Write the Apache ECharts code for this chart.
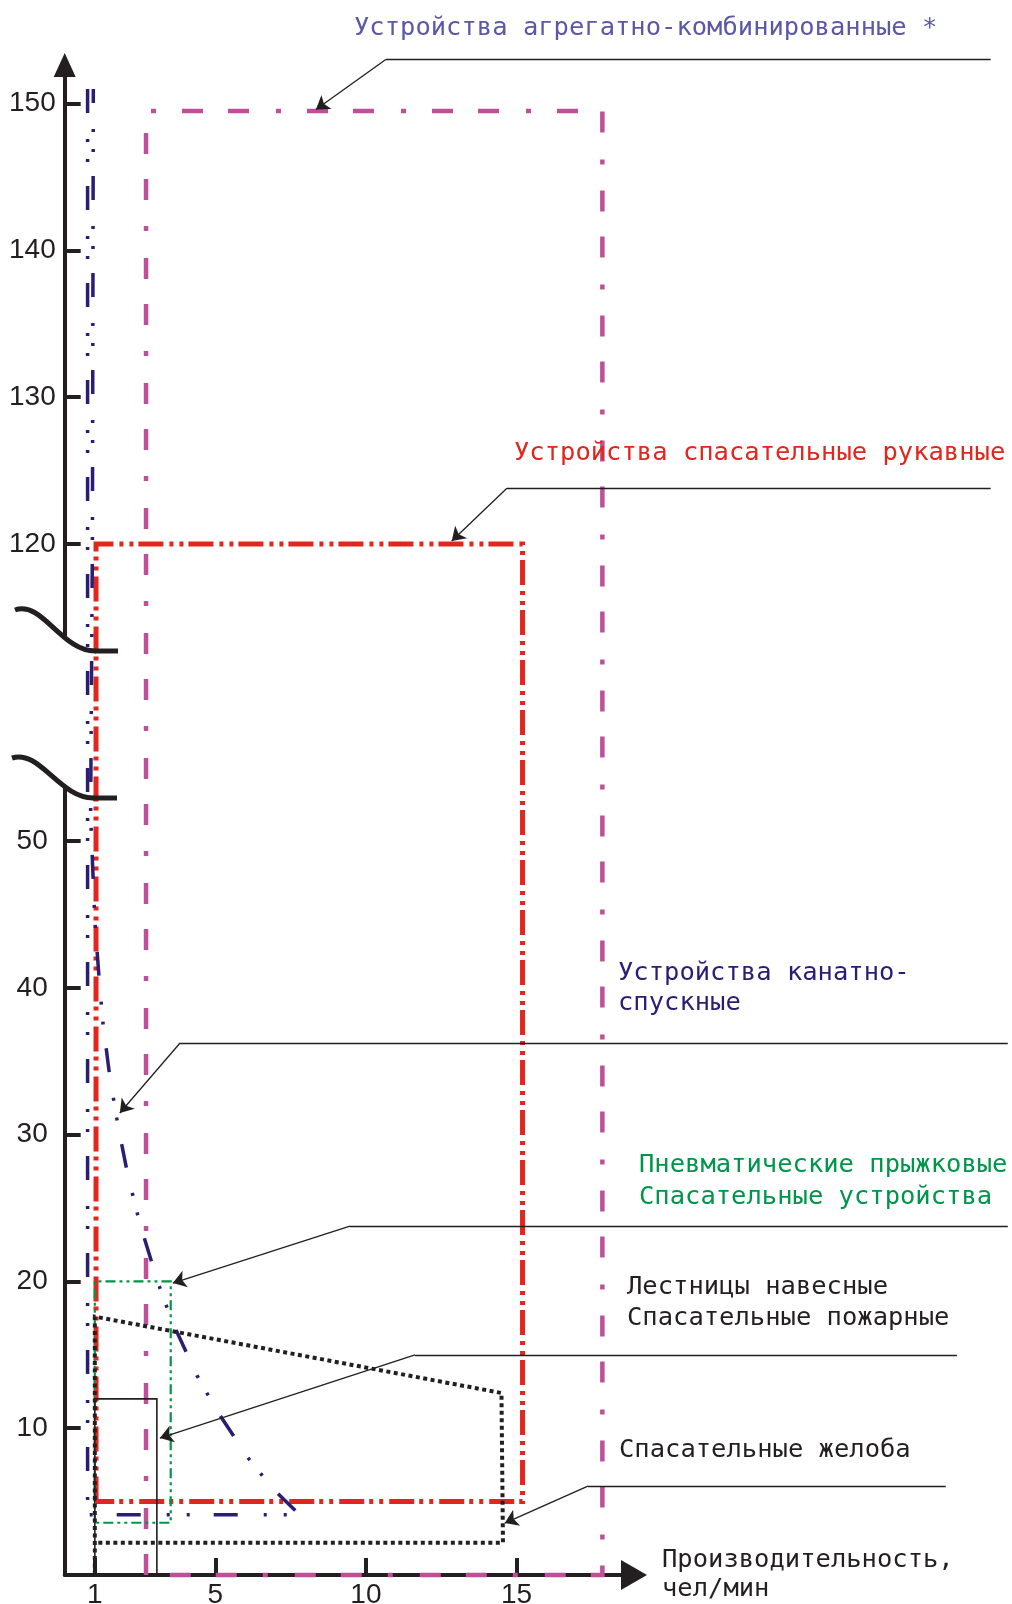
<!DOCTYPE html>
<html><head><meta charset="utf-8">
<script src="https://cdn.jsdelivr.net/npm/echarts@6/dist/echarts.min.js"></script>
<style>html,body{margin:0;padding:0;background:#fff}#c{width:1012px;height:1604px}</style>
</head><body><div id="c"></div>
<script>
// ---- data ----
const xTickValues = [1, 5, 10, 15];
const yTickValuesLower = [10, 20, 30, 40, 50];
const yTickValuesUpper = [120, 130, 140, 150];

const aggregateDevices = [[2.7,0],[2.7,149.5],[17.85,149.5],[17.85,0],[2.7,0]];
const sleeveDevices = [[1.04,5],[1.04,120],[15.2,120],[15.2,5],[1.04,5]];
const ropeDevicesLeft = [[0.76,151],[0.76,4.1],[7.8,4.1]];
const ropeDevicesRight = [[0.95,151],[0.92,120],[0.86,51.7],[1.0,44.6],[1.14,40.7],[1.27,37.6],[1.5,33.9],[1.77,30.6],[2.1,27.2],[2.5,23.9],[3.1,19.9],[3.56,17.3],[4.39,13.6],[5.05,11.2],[6.08,8.0],[6.9,5.9],[7.8,4.1]];
const jumpDevices = [[1.0,3.56],[1.0,20],[3.52,20],[3.52,3.56],[1.0,3.56]];
const ladders = [[1.0,0],[1.0,12],[3.06,12],[3.06,0]];
const chutes = [[1.0,0],[1.0,17.6],[14.5,12.4],[14.55,2.2],[1.0,2.2]];

// leader lines: [shelf end, bend, arrow tip]
const leaders = [
  [[30.74,153.0],[10.66,153.0],[8.34,149.6]],
  [[30.74,123.8],[14.68,123.8],[12.85,120.2]],
  [[31.31,36.24],[3.83,36.24],[1.83,31.47]],
  [[31.31,23.77],[9.47,23.77],[3.59,19.89]],
  [[29.62,14.99],[11.63,14.99],[3.16,9.33]],
  [[29.25,6.06],[17.37,6.06],[14.61,3.54]]
];

const notes = [
  ['Устройства агрегатно-комбинированные *', 354, 28, '#5b58a8'],
  ['Устройства спасательные рукавные', 514, 453, '#e1261d'],
  ['Устройства канатно-', 618, 973, '#2a1d74'],
  ['спускные', 618, 1003, '#2a1d74'],
  ['Пневматические прыжковые', 639, 1165, '#00964a'],
  ['Спасательные устройства', 639, 1197, '#00964a'],
  ['Лестницы навесные', 627, 1287, '#231f20'],
  ['Спасательные пожарные', 627, 1318, '#231f20'],
  ['Спасательные желоба', 619, 1450, '#231f20'],
  ['Производительность,', 662, 1560, '#231f20'],
  ['чел/мин', 662, 1589, '#231f20']
];

// ---- broken y scale: upper segment shifted down ----
const OFFSET = 49.77;
const vy = y => (y >= 100 ? y - OFFSET : y);
const toV = pts => pts.map(p => [p[0], vy(p[1])]);
const realOf = v => Math.round(v > 60 ? v + OFFSET : v);

const INK = '#231f20';
const tickFont = '"Liberation Sans Narrow","Arial Narrow","Liberation Sans",sans-serif';
const noteFont = '25.5px "DejaVu Sans Mono", monospace';

function poly(name, pts, color, width, type, z, dashOffset) {
  return {
    name, type: 'line', data: toV(pts), symbol: 'none', showSymbol: false,
    clip: false, z, silent: true, animation: false,
    lineStyle: { color, width, type, dashOffset: dashOffset || 0, cap: 'butt', join: 'miter' }
  };
}

const yCustom = yTickValuesLower.concat(yTickValuesUpper.map(vy));

const chart = echarts.init(document.getElementById('c'), null, { renderer: 'canvas' });
chart.setOption({
  animation: false,
  backgroundColor: '#fff',
  grid: { left: 64.7, right: 378, top: 65, bottom: 29, containLabel: false, outerBoundsMode: 'none' },
  xAxis: {
    type: 'value', min: 0, max: 18.9,
    splitLine: { show: false },
    axisLine: { show: true, symbol: ['none', 'triangle'], symbolSize: [30, 26],
      lineStyle: { color: INK, width: 4 } },
    axisTick: { show: true, inside: true, length: 17, customValues: xTickValues,
      lineStyle: { color: INK, width: 4 } },
    axisLabel: { show: true, customValues: xTickValues, margin: 6, color: INK,
      fontSize: 28, fontFamily: tickFont }
  },
  yAxis: {
    type: 'value', min: 0, max: 1510 / 14.68,
    splitLine: { show: false },
    axisLine: { show: true, symbol: ['none', 'triangle'], symbolSize: [22, 24],
      lineStyle: { color: INK, width: 4 } },
    axisTick: { show: true, inside: true, length: 16, customValues: yCustom,
      lineStyle: { color: INK, width: 4 } },
    axisLabel: {
      show: true, customValues: yCustom, margin: 9,
      formatter: v => { const r = realOf(v); return r >= 100 ? '{u|' + r + '}' : '{l|' + r + '}'; },
      rich: {
        u: { fontSize: 28, fontFamily: tickFont, color: INK },
        l: { fontSize: 28, fontFamily: tickFont, color: INK, padding: [0, 8, 0, 0] }
      }
    }
  },
  series: [
    poly('Устройства агрегатно-комбинированные', aggregateDevices, '#bf4f98', 4.5, [21,25,21,27,5,26], 3),
    poly('Устройства спасательные рукавные', sleeveDevices, '#e1261d', 5, [25,6,4,6,4,5], 4),
    poly('Устройства канатно-спускные (1)', ropeDevicesLeft, '#2a1d74', 3.5, [24,26,3,17,3,24], 5, 0),
    poly('Устройства канатно-спускные (2)', ropeDevicesRight, '#2a1d74', 3.5, [24,26,3,17,3,24], 5, 10),
    poly('Пневматические прыжковые', jumpDevices, '#009744', 2.2, [10,4,3,4,3,4], 6),
    poly('Лестницы навесные', ladders, INK, 1.6, 'solid', 7),
    poly('Спасательные желоба', chutes, INK, 4, [4,3.5], 8),
    {
      type: 'lines', coordinateSystem: 'cartesian2d', clip: false, silent: true, z: 9,
      symbol: ['none', 'none'],
      lineStyle: { color: INK, width: 1.3, opacity: 1, curveness: 0 },
      data: leaders.map(l => ({ coords: toV([l[0], l[1]]) }))
    },
    {
      type: 'lines', coordinateSystem: 'cartesian2d', clip: false, silent: true, z: 9,
      symbol: ['none', 'arrow'], symbolSize: 13,
      lineStyle: { color: INK, width: 1.3, opacity: 1, curveness: 0 },
      data: leaders.map(l => ({ coords: toV([l[1], l[2]]) }))
    }
  ],
  graphic: [
    { type: 'rect', z: 100, silent: true, shape: { x: 56, y: 636, width: 16, height: 152 }, style: { fill: '#fff' } },
    { type: 'bezierCurve', z: 101, silent: true,
      shape: { x1: 15, y1: 610, cpx1: 42, cpy1: 600, cpx2: 62, cpy2: 652, x2: 96, y2: 651 },
      style: { stroke: INK, lineWidth: 5, fill: null } },
    { type: 'line', z: 101, silent: true, shape: { x1: 95, y1: 651, x2: 118, y2: 651 },
      style: { stroke: INK, lineWidth: 5 } },
    { type: 'bezierCurve', z: 101, silent: true,
      shape: { x1: 12, y1: 758, cpx1: 40, cpy1: 749, cpx2: 60, cpy2: 799, x2: 94, y2: 798 },
      style: { stroke: INK, lineWidth: 5, fill: null } },
    { type: 'line', z: 101, silent: true, shape: { x1: 93, y1: 798, x2: 117, y2: 798 },
      style: { stroke: INK, lineWidth: 5 } }
  ].concat(notes.map(n => ({
    type: 'text', z: 102, silent: true,
    style: { text: n[0], x: n[1], y: n[2], fill: n[3], font: noteFont, verticalAlign: 'middle', align: 'left' }
  })))
});
</script>
</body></html>
